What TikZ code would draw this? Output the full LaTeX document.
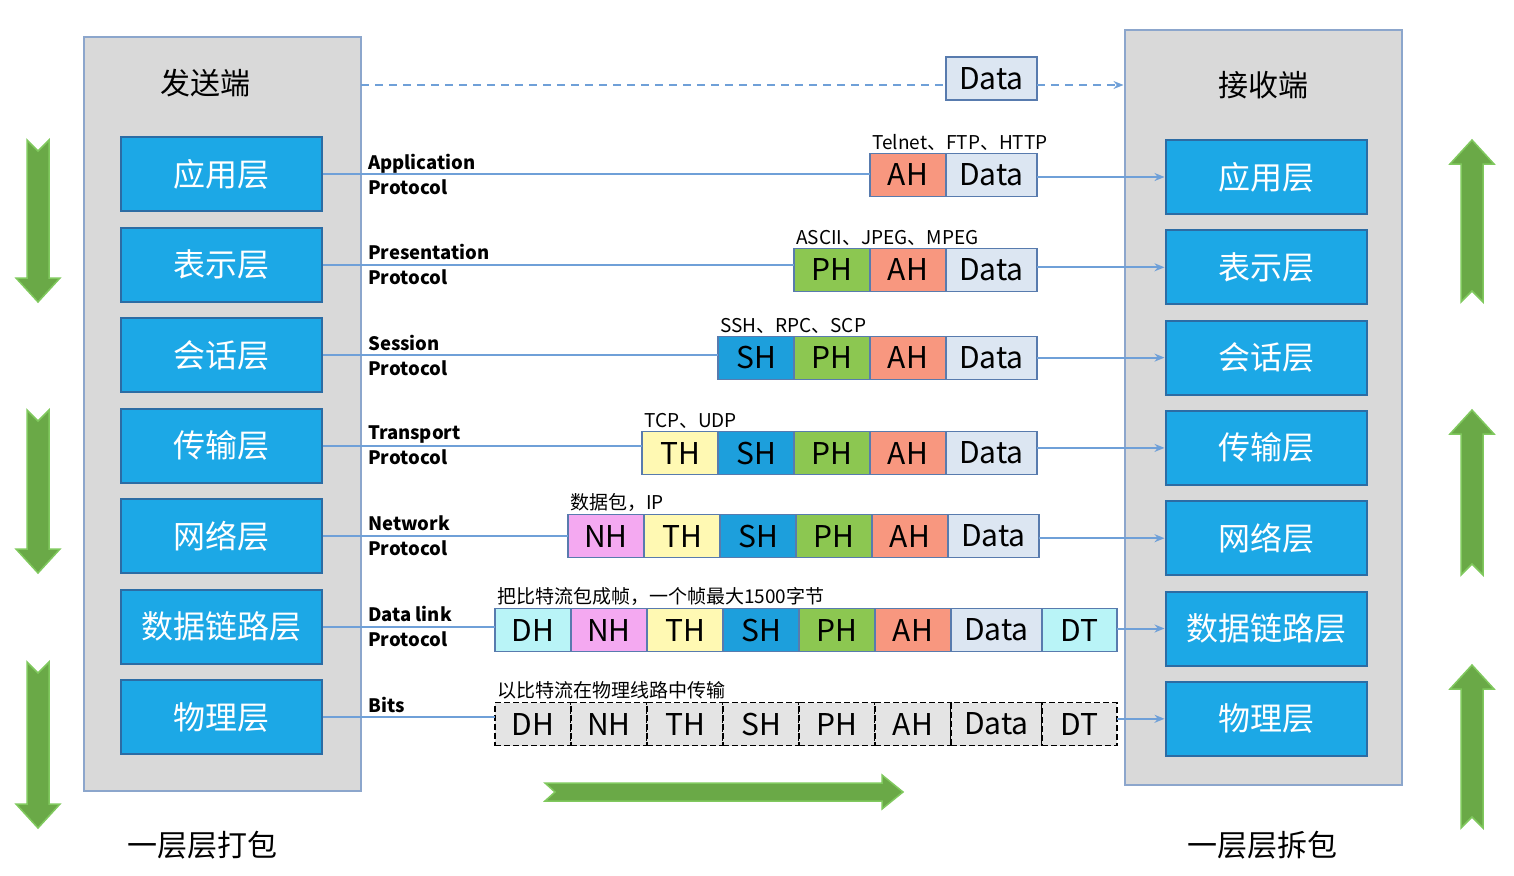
\documentclass[tikz,border=0pt]{standalone}
\usepackage{fontspec}
\setmainfont{Noto Sans CJK SC}
\usetikzlibrary{arrows.meta,positioning}

\definecolor{sidegray}{HTML}{D9D9D9}
\definecolor{sideedge}{HTML}{8CA6CC}
\definecolor{layerblue}{HTML}{1CA8E6}
\definecolor{layeredge}{HTML}{2C6CA4}
\definecolor{linkblue}{HTML}{6FA0D8}
\definecolor{celledge}{HTML}{587BAE}
\definecolor{ahred}{HTML}{F8977F}
\definecolor{datablue}{HTML}{DCE6F2}
\definecolor{phgreen}{HTML}{8CC751}
\definecolor{shblue}{HTML}{1D9FDC}
\definecolor{thyellow}{HTML}{FFF9B3}
\definecolor{nhpink}{HTML}{F4A9F1}
\definecolor{dhcyan}{HTML}{B9F4F7}
\definecolor{bitgray}{HTML}{E4E4E4}
\definecolor{arrowgreen}{HTML}{6AA947}
\definecolor{arrowedge}{HTML}{80C95E}

\begin{document}
\begin{tikzpicture}[x=1pt, y=-1pt, >={Stealth[length=10pt,width=8pt]},
    side/.style={draw=sideedge, fill=sidegray, line width=2pt, minimum width=277pt, minimum height=754pt, inner sep=0pt},
    layer/.style={draw=layeredge, fill=layerblue, line width=2pt, minimum width=201pt, minimum height=74pt, text=white, font=\fontsize{32}{38}\selectfont},
    title/.style={font=\fontsize{30}{36}\selectfont},
    cell/.style={draw=celledge, line width=1.5pt, minimum height=43pt, minimum width=76pt, inner sep=0pt, outer sep=0pt, font=\fontsize{30}{36}\selectfont},
    cAH/.style={fill=ahred}, cPH/.style={fill=phgreen}, cSH/.style={fill=shblue},
    cTH/.style={fill=thyellow}, cNH/.style={fill=nhpink}, cDH/.style={fill=dhcyan},
    cDT/.style={fill=dhcyan, minimum width=75pt}, cData/.style={fill=datablue, minimum width=91pt},
    pkt/.style={},
    bitcell/.style={fill=bitgray, draw=black, dash pattern=on 6pt off 3pt},
    link/.style={draw=linkblue, line width=2pt},
    note/.style={font=\fontsize{19}{23}\selectfont, inner sep=0pt, anchor=south west},
    proto/.style={font=\bfseries\fontsize{18.5}{25}\selectfont, align=left, inner sep=0pt, anchor=west},
    bigarrow/.style={fill=arrowgreen, draw=arrowedge, line width=1.5pt}]
  \useasboundingbox (0,0) rectangle (1514,875);

  % 发送端 / 接收端
  \node[side] (send) at (222.5,414) {};
  \node[side] (recv) at (1263,407.5) {};
  \node[title] (st) at (205,83) {发送端};
  \node[title] (rt) at (1263,85) {接收端};

  % 七层
  \foreach \name [count=\i] in {应用层,表示层,会话层,传输层,网络层,数据链路层,物理层}{
    \node[layer] (s\i) at (221.5,{174+90.5*(\i-1)}) {\name};
    \node[layer] (r\i) at (1266,{177+90.3*(\i-1)}) {\name};
  }

  % 数据
  \coordinate (topl) at (361,85);
  \node[cell, cData] (top) at (991.5,78.5) {Data};
  \draw[link, dash pattern=on 8pt off 6pt] (topl) -- (top.west |- topl);
  \draw[link, dash pattern=on 8pt off 6pt, ->] (top.east |- topl) -- (recv.west |- topl);

  % 各层数据包
  \foreach \r/\yy/\x/\n/\cells/\look in {
      1/175/870/2/{AH,Data}/pkt,
      2/270/794/3/{PH,AH,Data}/pkt,
      3/358/718/4/{SH,PH,AH,Data}/pkt,
      4/453/642/5/{TH,SH,PH,AH,Data}/pkt,
      5/536/568/6/{NH,TH,SH,PH,AH,Data}/pkt,
      6/630/495/8/{DH,NH,TH,SH,PH,AH,Data,DT}/pkt,
      7/724/495/8/{DH,NH,TH,SH,PH,AH,Data,DT}/bitcell}{
    \coordinate (p\r-0) at (\x,\yy);
    \foreach \c [count=\j, remember=\j as \k (initially 0)] in \cells
      \node[cell, c\c, \look, right=0pt of p\r-\k] (p\r-\j) {\c};
    \draw[link] (s\r.east) -- (s\r.east -| p\r-1.west);
    \draw[link, ->] (p\r-\n.east |- r\r.west) -- (r\r.west);
  }

  % 协议说明
  \foreach \r/\txt in {1/{Telnet、FTP、HTTP}, 2/{ASCII、JPEG、MPEG}, 3/{SSH、RPC、SCP}, 4/{TCP、UDP},
      5/{数据包，IP}, 6/{把比特流包成帧，一个帧最大1500字节}, 7/{以比特流在物理线路中传输}}
    \node[note] (n\r) at ([xshift=2pt, yshift=3pt]p\r-1.north west) {\txt};

  \foreach \r/\txt in {1/{Application\\Protocol}, 2/{Presentation\\Protocol}, 3/{Session\\Protocol},
      4/{Transport\\Protocol}, 5/{Network\\Protocol}, 6/{Data link\\Protocol}}
    \node[proto] (q\r) at ([xshift=45pt]s\r.east) {\txt};
  \node[proto, anchor=south west] (q7) at ([xshift=45pt, yshift=4pt]s7.east) {Bits};

  % 绿色箭头
  \foreach \xx/\ya/\yb in {38/140/302, 38/410/573, 38/662/828, 1472/302/140, 1472/575/410, 1472/828/665}{
    \pgfmathsetmacro\dd{\yb>\ya ? 1 : -1}
    \filldraw[bigarrow] ({\xx-11},\ya) -- (\xx,{\ya+11*\dd}) -- ({\xx+11},\ya) -- ({\xx+11},{\yb-24*\dd})
      -- ({\xx+22},{\yb-24*\dd}) -- (\xx,\yb) -- ({\xx-22},{\yb-24*\dd}) -- ({\xx-11},{\yb-24*\dd}) -- cycle;
  }
  \filldraw[bigarrow] (545,783) -- (555,792) -- (545,801) -- (882,801) -- (882,809) -- (903,792)
    -- (882,775) -- (882,783) -- cycle;

  \node[title] (sb) at (202,845) {一层层打包};
  \node[title] (rb) at (1262,845) {一层层拆包};
\end{tikzpicture}
\end{document}
